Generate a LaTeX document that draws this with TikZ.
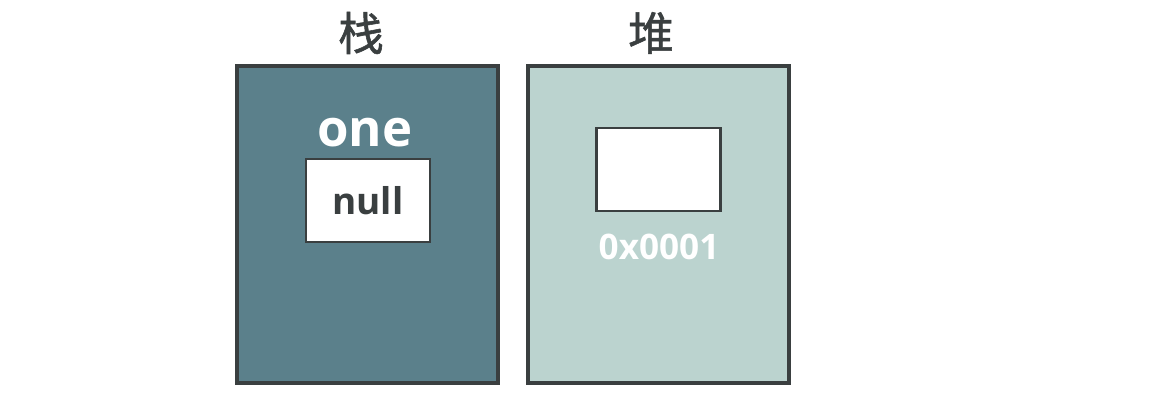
\documentclass[tikz,border=0pt]{standalone}
\usepackage{fontspec}
\setsansfont{Open Sans}
\newfontfamily\cjk[FakeBold=1.2]{Noto Sans CJK SC}
\usetikzlibrary{positioning}
\definecolor{cdark}{HTML}{3A3F40}
\definecolor{cstack}{HTML}{5B808B}
\definecolor{cheap}{HTML}{BBD3CF}
\tikzset{
  every picture/.style={font=\sffamily},
  area/.style={draw=cdark, fill=#1, line width=2.3pt, minimum width=5.22cm, minimum height=6.34cm, inner sep=0pt},
  cell/.style={draw=cdark, fill=white, line width=1.4pt, minimum width=2.48cm, minimum height=1.66cm, inner sep=0pt},
  title/.style={font=\cjk\fontsize{26}{28}\selectfont, text=cdark},
  varname/.style={font=\sffamily\bfseries\fontsize{29}{31}\selectfont, text=white},
}
\begin{document}
\begin{tikzpicture}[x=0.02cm, y=-0.02cm]
  \useasboundingbox (0,0) rectangle (1174,410);
  \node[area=cstack] (stack) at (367.5,224.5) {};
  \node[area=cheap] (heap) at (658.5,224.5) {};
  \node[title] (stacktitle) at (361,33) {栈};
  \node[title] (heaptitle) at (651,33) {堆};
  \node[cell] (null) at (368,200.5) {\bfseries\fontsize{21}{23}\selectfont\color{cdark}null};
  \node[varname] (one) at (365,133) {one};
  \node[cell] (obj) at (658.5,169.5) {};
  \node[font=\sffamily\bfseries\fontsize{20}{22}\selectfont, text=white] (addr) at (659,247) {0x0001};
\end{tikzpicture}
\end{document}
